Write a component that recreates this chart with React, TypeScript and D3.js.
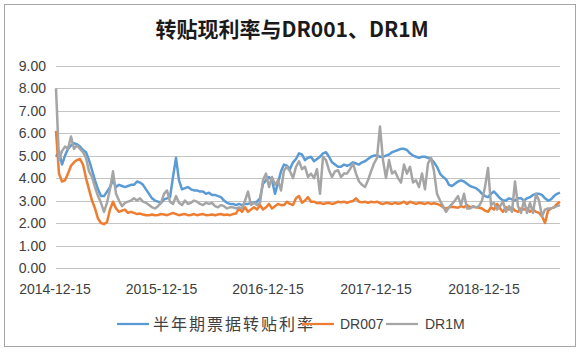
import React from 'react';
import * as d3 from 'd3';

// readings taken roughly every 10 days, 2014-12-15 .. 2019-08
const billRate = [
  4.95, 5.2, 4.6, 5.0, 5.3, 5.45, 5.55, 5.5, 5.4, 5.25, 5.15, 4.8, 4.35, 3.9, 3.5, 3.2, 3.2, 3.4, 3.6, 3.9,
  3.6, 3.7, 3.65, 3.6, 3.65, 3.7, 3.7, 3.85, 3.8, 3.7, 3.5, 3.3, 3.1, 3.0, 2.95, 2.9, 3.05, 3.1, 3.15, 4.05,
  4.9, 3.9, 3.5, 3.55, 3.6, 3.5, 3.45, 3.45, 3.4, 3.4, 3.3, 3.35, 3.25, 3.25, 3.2, 3.15, 3.0, 2.9, 2.85, 2.85,
  2.8, 2.85, 2.8, 2.85, 2.85, 2.9, 2.9, 2.95, 3.1, 3.75, 3.9, 4.05, 3.9, 3.3, 3.8, 4.3, 4.6, 4.55, 4.4, 4.7,
  4.85, 5.1, 5.05, 4.8, 4.9, 4.95, 4.75, 4.85, 4.95, 5.1, 5.15, 4.95, 4.7, 4.6, 4.5, 4.5, 4.6, 4.55, 4.6, 4.7,
  4.65, 4.6, 4.7, 4.75, 4.85, 4.95, 5.0, 5.0, 4.95, 4.95, 5.0, 5.05, 5.15, 5.2, 5.25, 5.3, 5.3, 5.25, 5.1, 5.0,
  4.95, 4.9, 4.95, 4.95, 4.9, 4.85, 4.7, 4.5, 4.2, 4.05, 3.95, 3.7, 3.65, 3.75, 3.85, 3.9, 3.85, 3.75, 3.65, 3.6,
  3.55, 3.45, 3.3, 3.2, 3.15, 3.3, 3.4, 3.25, 3.1, 3.0, 3.0, 3.1, 3.05, 3.0, 3.1, 3.1, 3.0, 3.1, 3.15, 3.25,
  3.3, 3.3, 3.25, 3.1, 3.0, 3.05, 3.2, 3.3, 3.35,
];

const dr007 = [
  6.1, 4.2, 3.85, 3.9, 4.2, 4.55, 4.7, 4.8, 4.85, 4.6, 4.0, 3.5, 3.0, 2.65, 2.2, 2.0, 1.95, 2.05, 2.6, 2.95,
  2.65, 2.5, 2.55, 2.6, 2.45, 2.5, 2.45, 2.4, 2.42, 2.38, 2.35, 2.35, 2.38, 2.35, 2.36, 2.4, 2.38, 2.35, 2.4, 2.45,
  2.4, 2.35, 2.38, 2.4, 2.35, 2.36, 2.4, 2.35, 2.38, 2.4, 2.35, 2.36, 2.38, 2.35, 2.38, 2.4, 2.36, 2.38, 2.35, 2.4,
  2.42, 2.65, 2.5, 2.7, 2.5, 2.6, 2.7, 2.6, 2.8, 2.6, 2.7, 2.85, 2.65, 2.75, 2.85, 2.8, 2.8, 2.95, 2.85, 2.8,
  3.1, 3.2, 2.9, 3.0, 3.15, 2.95, 2.95, 2.88, 2.9, 2.85, 2.88, 2.9, 2.85, 2.88, 2.95, 2.92, 2.95, 2.9, 2.95, 2.98,
  3.1, 2.95, 2.92, 2.95, 2.9, 2.95, 2.92, 2.95, 2.88, 2.85, 2.9, 2.88, 2.85, 2.9, 2.86, 2.88, 2.95, 2.85, 2.95, 2.9,
  2.85, 2.9, 2.88, 2.85, 2.9, 2.85, 2.88, 2.85, 2.8, 2.7, 2.65, 2.7, 2.72, 2.7, 2.68, 2.75, 2.7, 2.8, 2.7, 2.72,
  2.7, 2.68, 2.65, 2.55, 2.5, 2.7, 2.6, 2.85, 2.65, 2.5, 2.7, 2.6, 2.7, 2.55, 2.5, 2.65, 2.6, 2.65, 2.5, 2.6,
  2.5, 2.45, 2.3, 2.0, 2.55, 2.65, 2.7, 2.85, 2.95,
];

const dr1m = [
  8.0, 4.8, 5.2, 5.4, 5.3, 5.85, 5.3, 5.45, 5.3, 5.15, 4.9, 4.3, 4.05, 3.6, 3.2, 2.9, 2.5, 2.9, 3.5, 4.3,
  3.3, 3.0, 2.75, 2.9, 2.95, 3.0, 3.1, 3.0, 3.1, 2.95, 2.9, 2.8, 2.7, 2.65, 2.75, 2.9, 3.3, 3.45, 2.95, 2.85,
  3.2, 2.9, 2.8, 3.0, 2.85, 2.9, 3.0, 2.95, 2.85, 2.8, 2.9, 2.85, 2.9, 2.75, 2.7, 2.8, 2.75, 2.65, 2.7, 2.7,
  2.65, 2.7, 2.65, 3.0, 3.4, 2.8, 2.9, 2.8, 2.9, 3.9, 4.2, 3.6, 4.05, 3.7, 3.9, 3.45, 4.35, 4.5, 4.3, 4.0,
  4.5, 4.75, 4.4, 4.5, 4.05, 4.2, 4.0, 4.4, 3.3, 4.95, 4.8, 4.35, 4.05, 4.3, 4.35, 4.05, 4.2, 4.2, 4.4, 4.65,
  4.2, 3.85, 3.7, 3.6, 3.9, 4.3, 4.65, 4.9, 6.3, 4.8, 4.0, 4.8, 4.2, 4.3, 4.0, 3.8, 4.6, 4.2, 4.5, 3.8,
  3.9, 3.6, 4.2, 3.5, 4.65, 4.9, 4.3, 3.3, 3.0, 2.75, 2.5, 2.7, 2.85, 3.0, 3.2, 2.8, 3.3, 2.65, 2.65, 2.75,
  2.7, 2.75, 3.0, 3.6, 4.45, 2.8, 2.9, 2.6, 2.75, 2.95, 2.5, 2.75, 2.5, 3.85, 2.75, 2.45, 3.0, 2.45, 2.9, 2.45,
  3.3, 3.0, 2.3, 2.6, 2.65, 2.65, 2.7, 2.75, 2.8,
];

const seriesNames = ['半年期票据转贴利率', 'DR007', 'DR1M'];
const seriesColors = ['#5b9bd5', '#ed7d31', '#a5a5a5'];
const xTickLabels = ['2014-12-15', '2015-12-15', '2016-12-15', '2017-12-15', '2018-12-15'];
const xTickIndex = [0, 35.5, 71, 107, 143];
const yTicks = [0, 1, 2, 3, 4, 5, 6, 7, 8, 9];

const W = 583;
const H = 354;
const plot = { left: 56, right: 560, top: 65.7, bottom: 268 };

export default function App() {
  const series = [billRate, dr007, dr1m];
  const x = d3.scaleLinear().domain([0, billRate.length - 1]).range([plot.left, plot.right]);
  const y = d3.scaleLinear().domain([0, 9]).range([plot.bottom, plot.top]);
  const line = d3.line<number>().x((_, i) => x(i)).y(d => y(d));
  const fmt = d3.format('.2f');
  const labelFont = '"Liberation Sans", Arial, sans-serif';

  // legend entries: [line start, text start]
  const legendPos = [[117, 153], [302, 340], [386, 425]];

  return (
    <svg width={W} height={H} style={{ position: 'absolute', left: 0, top: 0, background: '#fff' }}>
      <rect x={4.5} y={4.5} width={571} height={342} fill="#fff" stroke="#a6a6a6" />
      <text x={292} y={37} textAnchor="middle" fontFamily='"Noto Sans CJK SC", sans-serif'
        fontWeight="bold" fontSize={21} fill="#1a1a1a">转贴现利率与DR001、DR1M</text>

      {yTicks.map(t => (
        <g key={t}>
          <line x1={plot.left} x2={plot.right} y1={Math.round(y(t)) + 0.5} y2={Math.round(y(t)) + 0.5}
            stroke="#c4c4c4" strokeWidth={1} />
          <text x={46} y={y(t)} dy="0.36em" textAnchor="end" fontFamily={labelFont}
            fontSize={14} fill="#404040">{fmt(t)}</text>
        </g>
      ))}

      {xTickLabels.map((lab, k) => (
        <text key={lab} x={x(xTickIndex[k]) - 1} y={294} textAnchor="middle" fontFamily={labelFont}
          fontSize={14} fill="#404040">{lab}</text>
      ))}

      {series.map((s, k) => (
        <path key={k} d={line(s) || ''} fill="none" stroke={seriesColors[k]} strokeWidth={2.5}
          strokeLinejoin="round" />
      ))}

      {seriesNames.map((name, k) => (
        <g key={name}>
          <line x1={legendPos[k][0]} x2={legendPos[k][0] + 32} y1={324} y2={324}
            stroke={seriesColors[k]} strokeWidth={2.25} />
          <text x={legendPos[k][1]} y={324} dy="0.36em"
            fontFamily={k === 0 ? '"Noto Sans CJK SC", sans-serif' : labelFont}
            letterSpacing={k === 0 ? 2 : 0}
            fontSize={k === 0 ? 16 : 14} fill="#404040">{name}</text>
        </g>
      ))}
    </svg>
  );
}
